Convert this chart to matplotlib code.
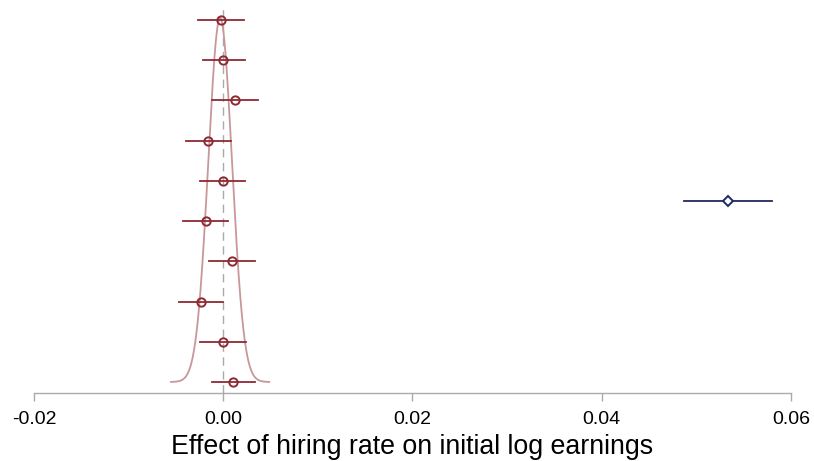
import numpy as np
import matplotlib
matplotlib.use('Agg')
import matplotlib.pyplot as plt

plt.rcParams['font.family'] = ['Liberation Sans', 'DejaVu Sans']

# placebo estimates (top to bottom) with 95% intervals
placebo_est = [-0.00027, 0.0000, 0.00128, -0.00161, -0.00006, -0.00185, 0.00092, -0.00238, 0.0000, 0.00100]
placebo_lo = [-0.00264, -0.00210, -0.00116, -0.00397, -0.00246, -0.00422, -0.00147, -0.00464, -0.00243, -0.00122]
placebo_hi = [0.00220, 0.00227, 0.00364, 0.00082, 0.00233, 0.00047, 0.00332, -0.00006, 0.00244, 0.00332]

# actual estimate
actual_est = 0.05335
actual_lo = 0.04873
actual_hi = 0.05797

# normal density of the placebo distribution
dens_mean = -0.00033
dens_sd = 0.00125

xticks = [-0.02, 0.0, 0.02, 0.04, 0.06]
xticklabels = ['-0.02', '0.00', '0.02', '0.04', '0.06']

red = '#8e2a33'
pink = '#c8979a'
navy = '#1c2a5c'

fig = plt.figure(figsize=(8.14, 4.61), dpi=100)
ax = fig.add_axes([34 / 814, 68 / 461, 757 / 814, 388 / 461])

n = len(placebo_est)
ypos = np.arange(n, 0, -1)

# density curve, base at the lowest row
xs = np.linspace(dens_mean - 4.15 * dens_sd, dens_mean + 4.15 * dens_sd, 400)
pdf = np.exp(-0.5 * ((xs - dens_mean) / dens_sd) ** 2)
ax.plot(xs, 1 + pdf * 9.05, color=pink, lw=1.3, zorder=1)

ax.plot([0, 0], [0.73, 10.3], color='#aaaaaa', lw=1.0, ls=(0, (6, 4)), zorder=0)

for y, e, lo, hi in zip(ypos, placebo_est, placebo_lo, placebo_hi):
    ax.plot([lo, hi], [y, y], color=red, lw=1.3, zorder=2)
    ax.plot(e, y, 'o', ms=6, mfc='none', mec=red, mew=1.4, zorder=3)

ymid = (n + 1) / 2.0
ax.plot([actual_lo, actual_hi], [ymid, ymid], color=navy, lw=1.3, zorder=2)
ax.plot(actual_est, ymid, 'D', ms=5.5, mfc='white', mec=navy, mew=1.4, zorder=3)

ax.set_xlim(-0.02, 0.06)
ax.set_ylim(0.726, 10.37)
ax.set_xticks(xticks)
ax.set_xticklabels(xticklabels, fontsize=14)
ax.set_yticks([])
for s in ['left', 'right', 'top']:
    ax.spines[s].set_visible(False)
ax.spines['bottom'].set_color('#aaaaaa')
ax.spines['bottom'].set_linewidth(1.0)
ax.tick_params(axis='x', direction='out', length=6, width=1.0, color='#aaaaaa', pad=7)
ax.set_xlabel('Effect of hiring rate on initial log earnings', fontsize=19.3, labelpad=4)

fig.savefig('out.png', dpi=100)
